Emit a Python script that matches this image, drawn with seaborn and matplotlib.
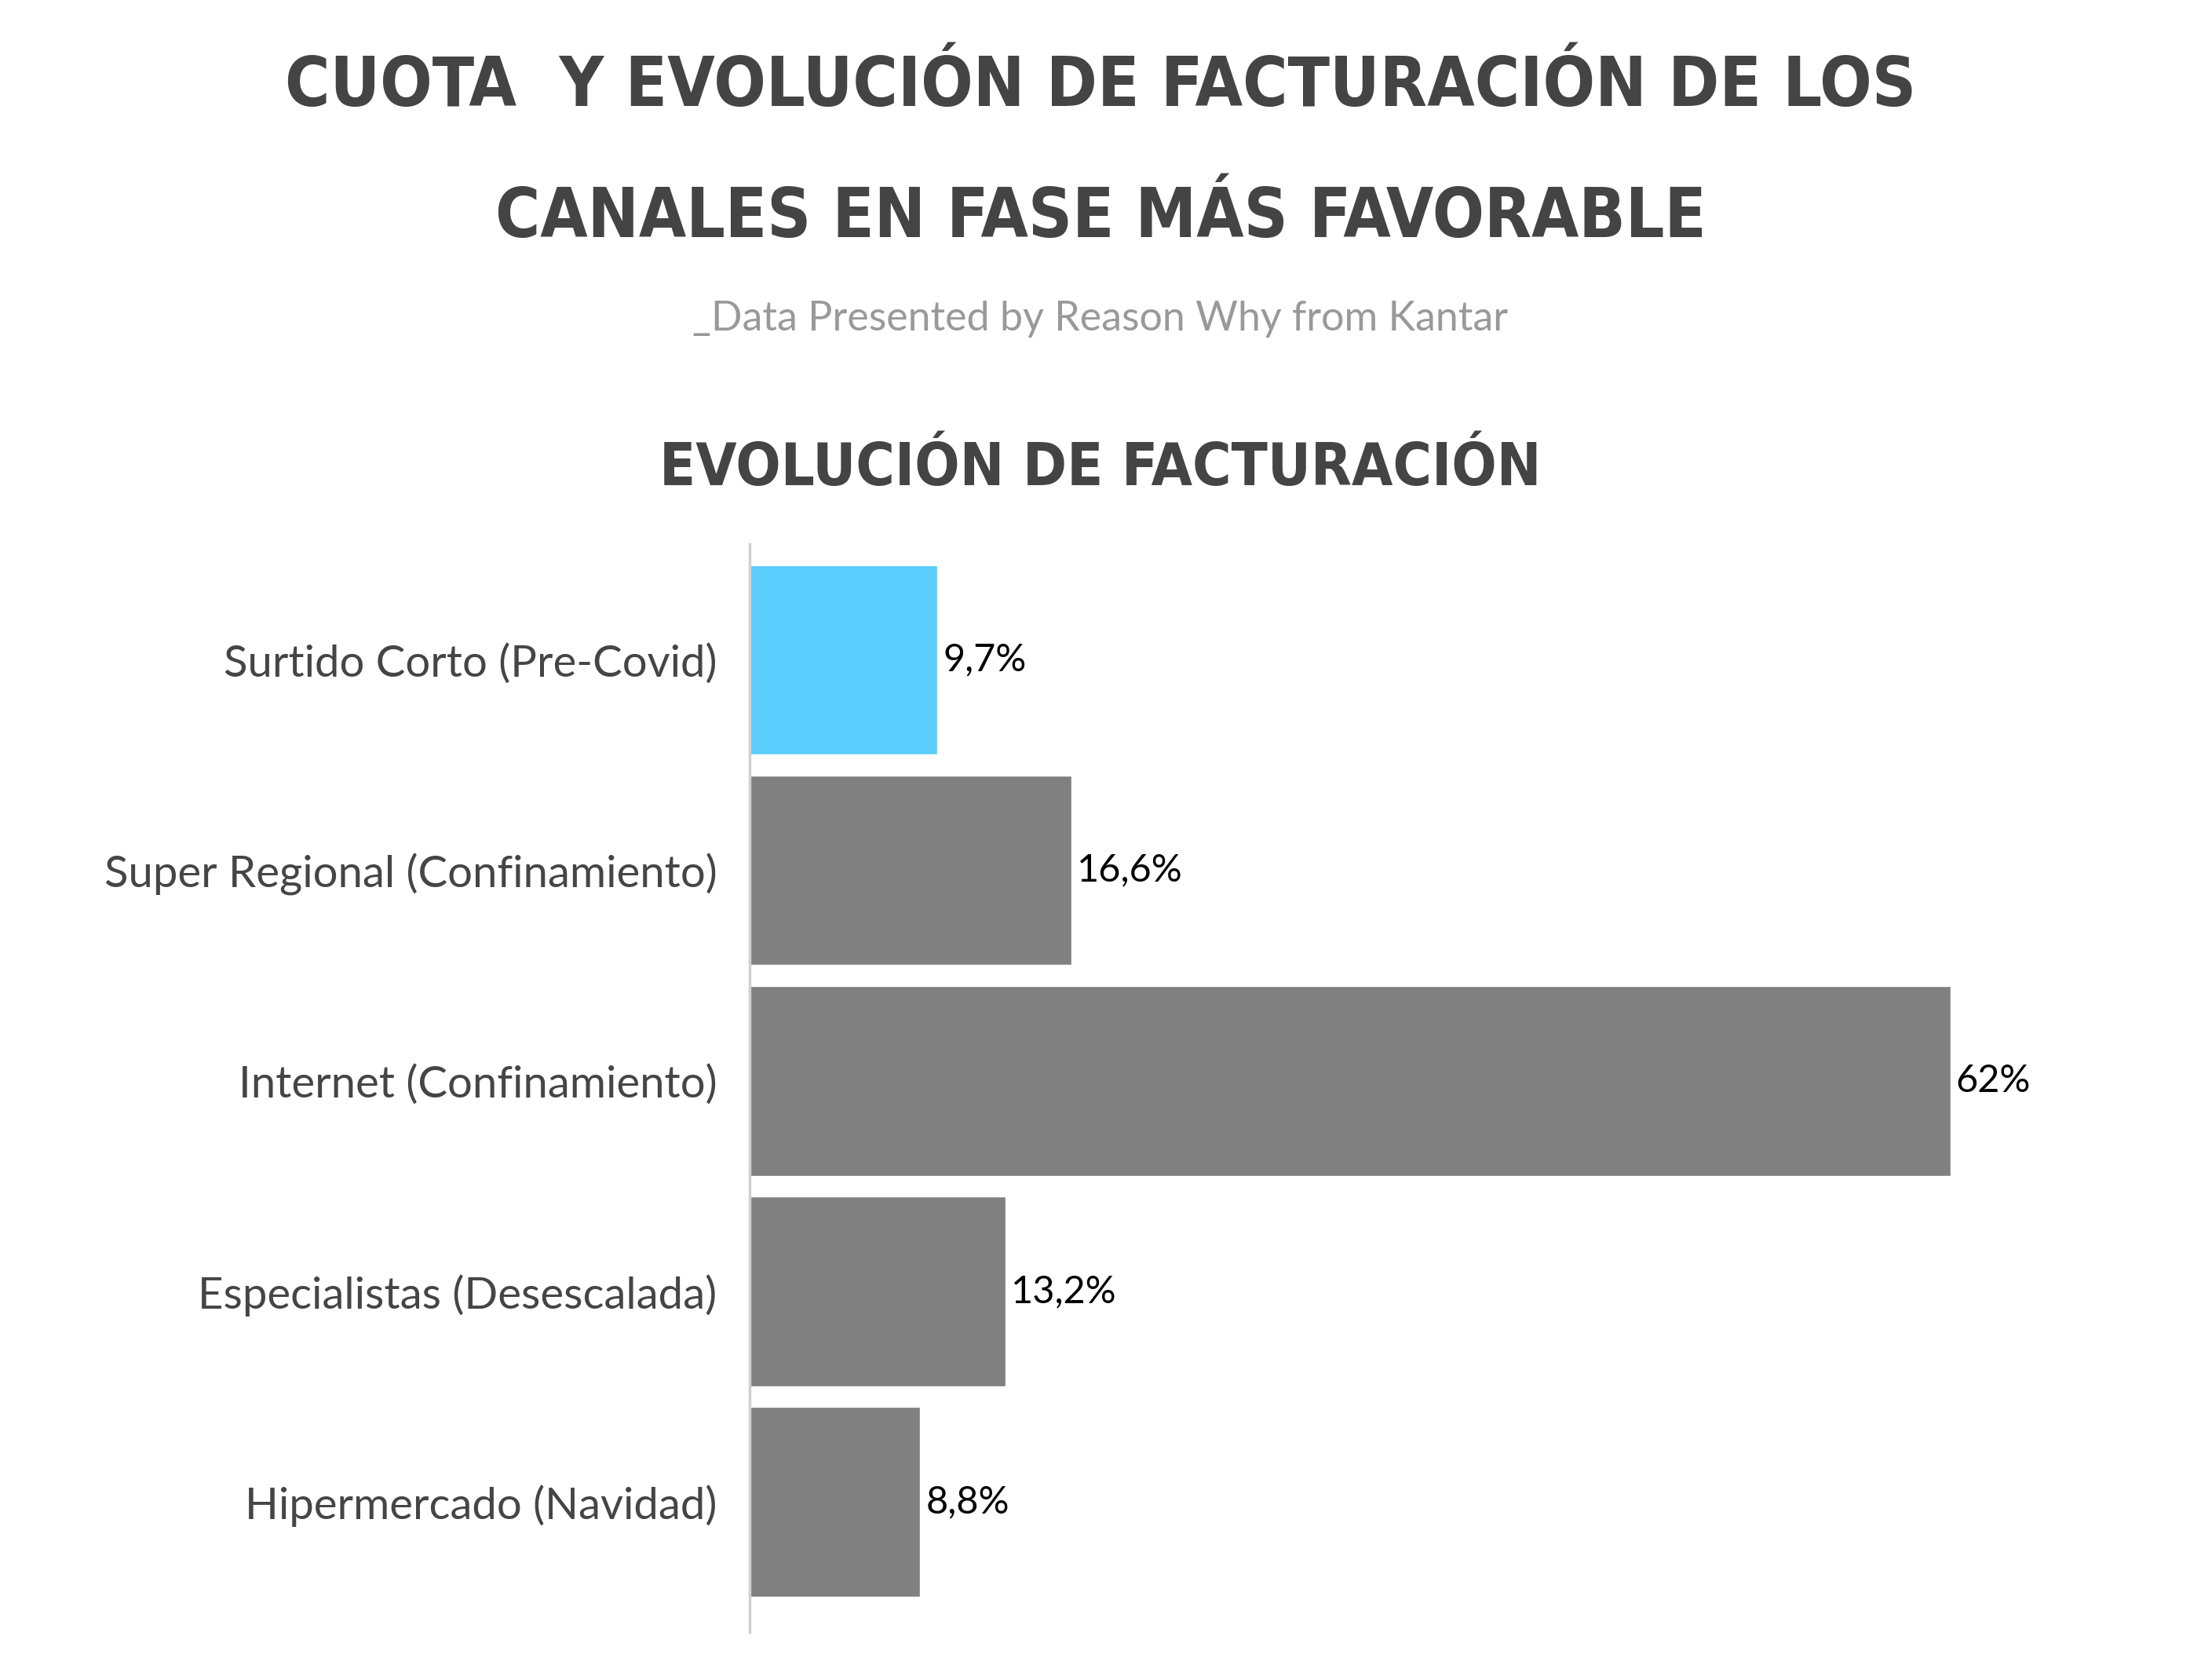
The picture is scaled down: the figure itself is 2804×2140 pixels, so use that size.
import matplotlib
matplotlib.use("Agg")
import matplotlib.pyplot as plt
from matplotlib import font_manager as fm
import seaborn as sns
import pandas as pd

categories = [
    "Surtido Corto (Pre-Covid)",
    "Super Regional (Confinamiento)",
    "Internet (Confinamiento)",
    "Especialistas (Desescalada)",
    "Hipermercado (Navidad)",
]
values = [9.7, 16.6, 62.0, 13.2, 8.8]
value_labels = ["9,7%", "16,6%", "62%", "13,2%", "8,8%"]
bar_colors = ["#5BCDFC", "#808080", "#808080", "#808080", "#808080"]

title_line1 = "CUOTA  Y EVOLUCIÓN DE FACTURACIÓN DE LOS"
title_line2 = "CANALES EN FASE MÁS FAVORABLE"
subtitle = "_Data Presented by Reason Why from Kantar"
section_title = "EVOLUCIÓN DE FACTURACIÓN"

sns.set_theme(style="white")
plt.rcParams["font.family"] = ["Lato", "DejaVu Sans"]

# pick a condensed bold face if one is installed
def _weight(w):
    if isinstance(w, str):
        return {"bold": 700, "heavy": 800, "black": 900, "semibold": 600,
                "demibold": 600}.get(w, 400)
    return w

cands = []
for f in fm.fontManager.ttflist:
    n = (f.name + " " + str(f.stretch)).lower()
    fn = f.fname.lower()
    if ("condensed" in n or "narrow" in n or "condensed" in fn or "narrow" in fn) \
            and _weight(f.weight) >= 600 and "italic" not in f.style \
            and "oblique" not in f.style and "italic" not in fn and "oblique" not in fn:
        cands.append(f)
if cands:
    title_fp = fm.FontProperties(fname=cands[0].fname)
else:
    title_fp = fm.FontProperties(family="DejaVu Sans", weight="bold")

df = pd.DataFrame({"cat": categories, "val": values})

fig = plt.figure(figsize=(28.04, 21.40), dpi=100)
fig.patch.set_facecolor("white")
ax = fig.add_axes([0.3406, 0.0284, 0.616, 0.6476])

sns.barplot(data=df, x="val", y="cat", hue="cat", palette=bar_colors,
            legend=False, width=0.9, ax=ax, saturation=1, orient="h")

ax.set_xlim(0, 70)
ax.set_ylim(4.62, -0.55)
ax.set_xlabel("")
ax.set_ylabel("")
ax.set_xticks([])
for s in ["top", "right", "bottom"]:
    ax.spines[s].set_visible(False)
ax.spines["left"].set_color("#d0d0d0")
ax.spines["left"].set_linewidth(2.5)
ax.tick_params(axis="y", length=0, pad=30, labelsize=40.5, labelcolor="#454545")

for i, (v, t) in enumerate(zip(values, value_labels)):
    ax.annotate(t, xy=(v, i), xytext=(5, 0), textcoords="offset points",
                ha="left", va="center", fontsize=35, color="#000000")

renderer = fig.canvas.get_renderer()

def fitted_text(y, s, target_px, fp=None, **kw):
    size = 60
    if fp is not None:
        fp = fp.copy()
        fp.set_size(size)
        t = fig.text(0.5, y, s, ha="center", va="center", fontproperties=fp, **kw)
    else:
        t = fig.text(0.5, y, s, ha="center", va="center", fontsize=size, **kw)
    w = t.get_window_extent(renderer).width
    t.set_fontsize(size * target_px / w)
    return t

fitted_text(0.948, title_line1, 2078, fp=title_fp, color="#444444")
fitted_text(0.870, title_line2, 1543, fp=title_fp, color="#444444")
fitted_text(0.810, subtitle, 1042, color="#999999")
fitted_text(0.721, section_title, 1123, fp=title_fp, color="#444444")

fig.savefig("out.png", dpi=100, facecolor="white")
